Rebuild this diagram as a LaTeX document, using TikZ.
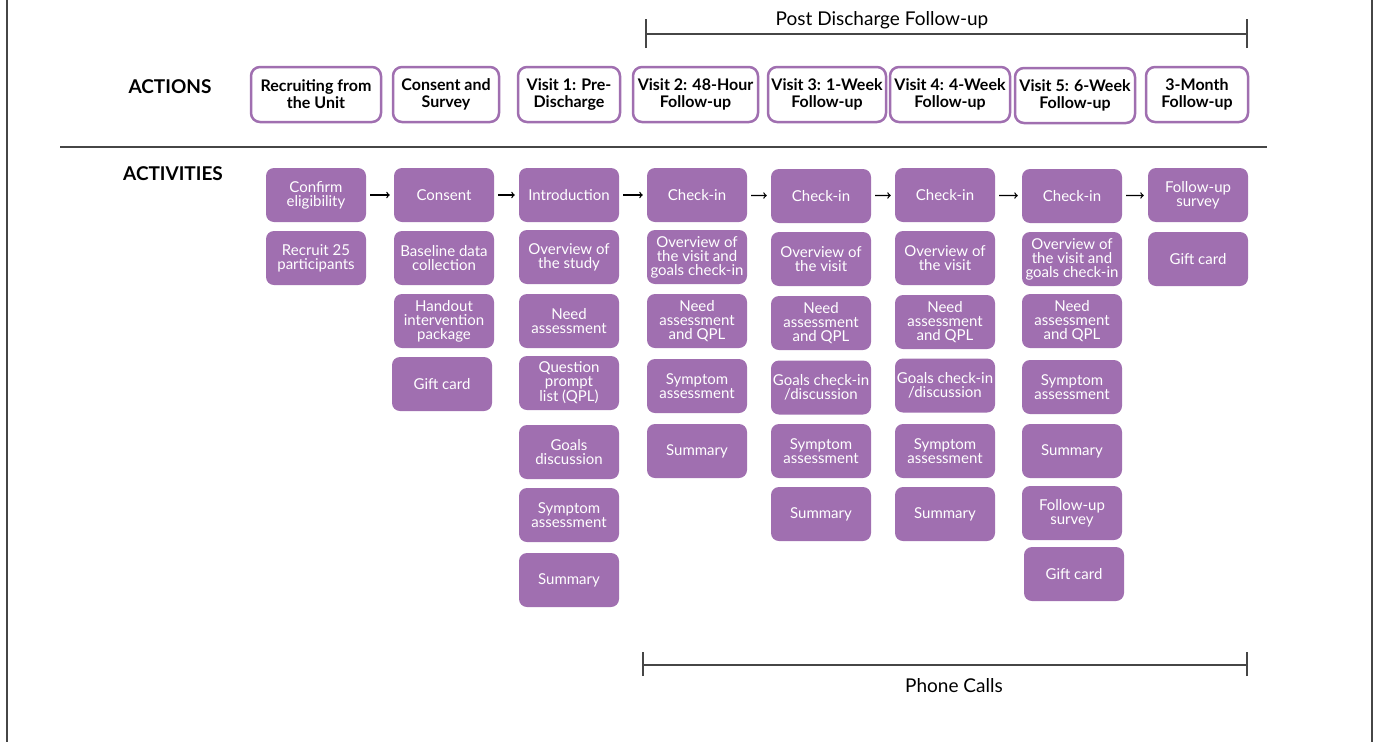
\documentclass[tikz,border=0pt]{standalone}
\usepackage{fontspec}
\setmainfont{Lato}
\definecolor{boxpurple}{RGB}{160,111,176}
\definecolor{linegray}{RGB}{70,70,70}
\tikzset{
  action/.style={draw=boxpurple, line width=2.5pt, rounded corners=9pt, fill=white,
    minimum height=55pt, align=center, inner sep=1pt,
    font=\fontsize{16}{17}\selectfont\bfseries},
  task/.style={fill=boxpurple, rounded corners=8pt, minimum width=100pt,
    minimum height=54pt, align=center, text=white, inner sep=1pt,
    font=\fontsize{15}{14}\selectfont},
  flow/.style={->, line width=1.3pt, shorten <=4pt, shorten >=4pt},
  bracket/.style={linegray, line width=1.5pt},
  heading/.style={font=\fontsize{19}{20}\selectfont\bfseries}
}
\begin{document}
\begin{tikzpicture}[x=1pt,y=-1pt]
  \useasboundingbox (0,0) rectangle (1378,742);
  % frame
  \draw[linegray, line width=2pt] (7,0) -- (7,742);
  \draw[linegray, line width=2pt] (1372,0) -- (1372,742);

  % post discharge bracket
  \coordinate (pdl) at (646,34);
  \coordinate (pdr) at (1247,34);
  \draw[bracket] (pdl) -- (pdr);
  \draw[bracket] ([yshift=-14pt]pdl) -- ([yshift=15pt]pdl);
  \draw[bracket] ([yshift=-14pt]pdr) -- ([yshift=15pt]pdr);
  \node[font=\fontsize{19}{20}\selectfont] (pdtext) at (882,20) {Post Discharge Follow-up};

  % actions
  \node[heading] (actions) at (170,87) {ACTIONS};
  \node[action, minimum width=130pt] (recruiting) at (316,94.5) {Recruiting from\\the Unit};
  \node[action, minimum width=106pt] (survey) at (446,94.5) {Consent and\\Survey};
  \node[action, minimum width=102pt] (visit1) at (569,94.5) {Visit 1: Pre-\\Discharge};
  \node[action, minimum width=125pt] (visit2) at (695.5,94.5) {Visit 2: 48-Hour\\Follow-up};
  \node[action, minimum width=118pt] (visit3) at (827,94.5) {Visit 3: 1-Week\\Follow-up};
  \node[action, minimum width=120pt] (visit4) at (950,94.5) {Visit 4: 4-Week\\Follow-up};
  \node[action, minimum width=120pt] (visit5) at (1075,95.5) {Visit 5: 6-Week\\Follow-up};
  \node[action, minimum width=102pt] (month3) at (1197,94.5) {3-Month\\Follow-up};

  \draw[linegray, line width=2.5pt] (60,147) -- (1267,147);

  % activities
  \node[heading] (activities) at (173,174) {ACTIVITIES};

  \node[task] (confirm) at (316,195) {Confirm\\eligibility};
  \node[task] (recruit) at (316,258) {Recruit 25\\participants};

  \node[task] (consent) at (444,195) {Consent};
  \node[task] (baseline) at (444,258) {Baseline data\\collection};
  \node[task] (handout) at (444,321) {Handout\\intervention\\package};
  \node[task] (gift1) at (442,384) {Gift card};

  \node[task] (intro) at (569,195) {Introduction};
  \node[task] (study) at (569,257) {Overview of\\the study};
  \node[task] (need1) at (569,321) {Need\\assessment};
  \node[task] (qpl) at (569,383) {Question\\prompt\\list (QPL)};
  \node[task] (goals1) at (569,452) {Goals\\discussion};
  \node[task] (symp1) at (569,515) {Symptom\\assessment};
  \node[task] (summ1) at (569,580) {Summary};

  \node[task] (check2) at (697,195) {Check-in};
  \node[task] (over2) at (697,257) {Overview of\\the visit and\\goals check-in};
  \node[task] (need2) at (697,321) {Need\\assessment\\and QPL};
  \node[task] (symp2) at (697,386) {Symptom\\assessment};
  \node[task] (summ2) at (697,451) {Summary};

  \node[task] (check3) at (821,196) {Check-in};
  \node[task] (over3) at (821,259) {Overview of\\the visit};
  \node[task] (need3) at (821,323) {Need\\assessment\\and QPL};
  \node[task] (goals3) at (821,387.5) {Goals check-in\\/discussion};
  \node[task] (symp3) at (821,451) {Symptom\\assessment};
  \node[task] (summ3) at (821,514) {Summary};

  \node[task] (check4) at (945,195) {Check-in};
  \node[task] (over4) at (945,258) {Overview of\\the visit};
  \node[task] (need4) at (945,322) {Need\\assessment\\and QPL};
  \node[task] (goals4) at (945,385.5) {Goals check-in\\/discussion};
  \node[task] (symp4) at (945,451) {Symptom\\assessment};
  \node[task] (summ4) at (945,514) {Summary};

  \node[task] (check5) at (1072,196) {Check-in};
  \node[task] (over5) at (1072,259) {Overview of\\the visit and\\goals check-in};
  \node[task] (need5) at (1072,321) {Need\\assessment\\and QPL};
  \node[task] (symp5) at (1072,387) {Symptom\\assessment};
  \node[task] (summ5) at (1072,451) {Summary};
  \node[task] (fus5) at (1072,513) {Follow-up\\survey};
  \node[task] (gift5) at (1074,574) {Gift card};

  \node[task] (fus6) at (1198,195) {Follow-up\\survey};
  \node[task] (gift6) at (1198,259) {Gift card};

  \draw[flow] (confirm) -- (consent);
  \draw[flow] (consent) -- (intro);
  \draw[flow] (intro) -- (check2);
  \draw[flow] (check2) -- (check3);
  \draw[flow] (check3) -- (check4);
  \draw[flow] (check4) -- (check5);
  \draw[flow] (check5) -- (fus6);

  % phone calls bracket
  \coordinate (pcl) at (643,665);
  \coordinate (pcr) at (1247,665);
  \draw[bracket] (pcl) -- (pcr);
  \draw[bracket] ([yshift=-11pt]pcl) -- ([yshift=13pt]pcl);
  \draw[bracket] ([yshift=-11pt]pcr) -- ([yshift=13pt]pcr);
  \node[font=\fontsize{19}{20}\selectfont] (phone) at (954,686) {Phone Calls};
\end{tikzpicture}
\end{document}
